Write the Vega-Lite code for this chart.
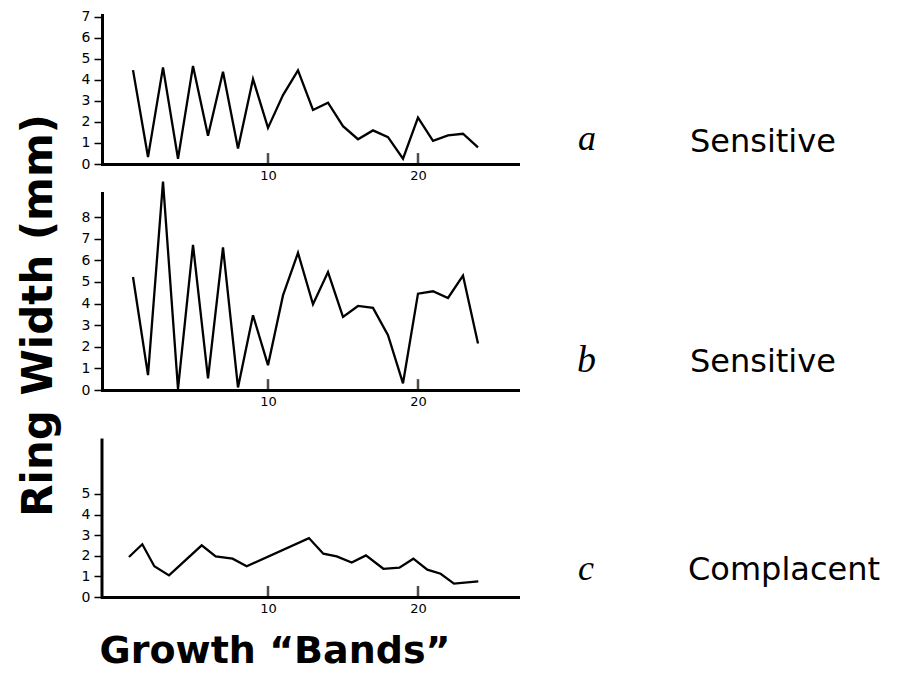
{
  "$schema": "https://vega.github.io/schema/vega-lite/v6.json",
  "padding": {"left": 18, "top": 9, "right": 0, "bottom": 0},
  "config": {
    "view": {"stroke": null},
    "font": "DejaVu Sans",
    "axis": {
      "grid": false, "title": null,
      "domainColor": "black", "domainWidth": 3, "domainCap": "square",
      "tickColor": "black", "labelColor": "black",
      "labelFont": "DejaVu Sans"
    }
  },
  "datasets": {
    "one": [{}],
    "marks10": [{"pos": 10}, {"pos": 20}],
    "series": [
      {"panel": "a", "band": 1, "width": 4.47}, {"panel": "a", "band": 2, "width": 0.33}, {"panel": "a", "band": 3, "width": 4.6}, {"panel": "a", "band": 4, "width": 0.25},
      {"panel": "a", "band": 5, "width": 4.67}, {"panel": "a", "band": 6, "width": 1.34}, {"panel": "a", "band": 7, "width": 4.39}, {"panel": "a", "band": 8, "width": 0.74},
      {"panel": "a", "band": 9, "width": 4.05}, {"panel": "a", "band": 10, "width": 1.72}, {"panel": "a", "band": 11, "width": 3.28}, {"panel": "a", "band": 12, "width": 4.46},
      {"panel": "a", "band": 13, "width": 2.57}, {"panel": "a", "band": 14, "width": 2.92}, {"panel": "a", "band": 15, "width": 1.8}, {"panel": "a", "band": 16, "width": 1.18},
      {"panel": "a", "band": 17, "width": 1.6}, {"panel": "a", "band": 18, "width": 1.28}, {"panel": "a", "band": 19, "width": 0.25}, {"panel": "a", "band": 20, "width": 2.21},
      {"panel": "a", "band": 21, "width": 1.1}, {"panel": "a", "band": 22, "width": 1.36}, {"panel": "a", "band": 23, "width": 1.44}, {"panel": "a", "band": 24, "width": 0.79},
      {"panel": "b", "band": 1, "width": 5.23}, {"panel": "b", "band": 2, "width": 0.69}, {"panel": "b", "band": 3, "width": 9.65}, {"panel": "b", "band": 4, "width": 0.05},
      {"panel": "b", "band": 5, "width": 6.72}, {"panel": "b", "band": 6, "width": 0.54}, {"panel": "b", "band": 7, "width": 6.6}, {"panel": "b", "band": 8, "width": 0.12},
      {"panel": "b", "band": 9, "width": 3.46}, {"panel": "b", "band": 10, "width": 1.15}, {"panel": "b", "band": 11, "width": 4.38}, {"panel": "b", "band": 12, "width": 6.35},
      {"panel": "b", "band": 13, "width": 3.97}, {"panel": "b", "band": 14, "width": 5.46}, {"panel": "b", "band": 15, "width": 3.38}, {"panel": "b", "band": 16, "width": 3.89},
      {"panel": "b", "band": 17, "width": 3.8}, {"panel": "b", "band": 18, "width": 2.54}, {"panel": "b", "band": 19, "width": 0.31}, {"panel": "b", "band": 20, "width": 4.46},
      {"panel": "b", "band": 21, "width": 4.57}, {"panel": "b", "band": 22, "width": 4.26}, {"panel": "b", "band": 23, "width": 5.3}, {"panel": "b", "band": 24, "width": 2.15},
      {"panel": "c", "band": 0.73, "width": 1.94}, {"panel": "c", "band": 1.62, "width": 2.56}, {"panel": "c", "band": 2.42, "width": 1.49}, {"panel": "c", "band": 3.4, "width": 1.05},
      {"panel": "c", "band": 5.58, "width": 2.51}, {"panel": "c", "band": 6.51, "width": 1.97}, {"panel": "c", "band": 7.64, "width": 1.86}, {"panel": "c", "band": 8.58, "width": 1.49},
      {"panel": "c", "band": 12.73, "width": 2.86}, {"panel": "c", "band": 13.69, "width": 2.1}, {"panel": "c", "band": 14.58, "width": 1.97}, {"panel": "c", "band": 15.58, "width": 1.67},
      {"panel": "c", "band": 16.53, "width": 2.02}, {"panel": "c", "band": 17.69, "width": 1.37}, {"panel": "c", "band": 18.76, "width": 1.42}, {"panel": "c", "band": 19.69, "width": 1.86},
      {"panel": "c", "band": 20.62, "width": 1.33}, {"panel": "c", "band": 21.51, "width": 1.13}, {"panel": "c", "band": 22.4, "width": 0.65}, {"panel": "c", "band": 24.02, "width": 0.76}
    ]
  },
  "bounds": "flush",
  "spacing": 29,
  "vconcat": [
    {
      "width": 416, "height": 149,
      "layer": [
        {
          "data": {"name": "series"},
          "transform": [{"filter": "datum.panel === 'a'"}],
          "mark": {"type": "line", "color": "black", "strokeWidth": 2.3},
          "encoding": {
            "x": {"field": "band", "type": "quantitative", "scale": {"domain": [-1.067, 26.667], "nice": false, "zero": false}, "axis": {"values": [10, 20], "format": "d", "ticks": false, "labelPadding": 5, "labelFontSize": 13, "labelFlush": false}},
            "y": {"field": "width", "type": "quantitative", "scale": {"domain": [0, 7.095], "nice": false}, "axis": {"values": [0, 1, 2, 3, 4, 5, 6, 7], "tickSize": 8, "tickWidth": 1.5, "labelPadding": 4, "labelFontSize": 14}}
          }
        },
        {
          "data": {"name": "marks10"},
          "mark": {"type": "tick", "orient": "vertical", "color": "black", "size": 11, "thickness": 2.5},
          "encoding": {
            "x": {"field": "pos", "type": "quantitative", "axis": {"values": [10, 20], "format": "d", "ticks": false, "labelPadding": 5, "labelFontSize": 13, "labelFlush": false}},
            "y": {"datum": 0.26, "type": "quantitative", "axis": {"values": [0, 1, 2, 3, 4, 5, 6, 7], "tickSize": 8, "tickWidth": 1.5, "labelPadding": 4, "labelFontSize": 14}}
          }
        },
        {
          "data": {"name": "one"},
          "mark": {"type": "text", "text": "a", "font": "Liberation Serif", "fontStyle": "italic", "fontSize": 36, "align": "left", "baseline": "alphabetic"},
          "encoding": {
            "x": {"datum": 30.67, "type": "quantitative", "axis": {"values": [10, 20], "format": "d", "ticks": false, "labelPadding": 5, "labelFontSize": 13, "labelFlush": false}},
            "y": {"datum": 0.67, "type": "quantitative", "axis": {"values": [0, 1, 2, 3, 4, 5, 6, 7], "tickSize": 8, "tickWidth": 1.5, "labelPadding": 4, "labelFontSize": 14}}
          }
        },
        {
          "data": {"name": "one"},
          "mark": {"type": "text", "text": "Sensitive", "font": "DejaVu Sans", "fontSize": 32, "align": "left", "baseline": "alphabetic"},
          "encoding": {
            "x": {"datum": 38.13, "type": "quantitative", "axis": {"values": [10, 20], "format": "d", "ticks": false, "labelPadding": 5, "labelFontSize": 13, "labelFlush": false}},
            "y": {"datum": 0.57, "type": "quantitative", "axis": {"values": [0, 1, 2, 3, 4, 5, 6, 7], "tickSize": 8, "tickWidth": 1.5, "labelPadding": 4, "labelFontSize": 14}}
          }
        }
      ]
    },
    {
      "width": 416, "height": 197,
      "layer": [
        {
          "data": {"name": "series"},
          "transform": [{"filter": "datum.panel === 'b'"}],
          "mark": {"type": "line", "color": "black", "strokeWidth": 2.3},
          "encoding": {
            "x": {"field": "band", "type": "quantitative", "scale": {"domain": [-1.067, 26.667], "nice": false, "zero": false}, "axis": {"values": [10, 20], "format": "d", "ticks": false, "labelPadding": 5, "labelFontSize": 13, "labelFlush": false}},
            "y": {"field": "width", "type": "quantitative", "scale": {"domain": [0, 9.12], "nice": false}, "axis": {"values": [0, 1, 2, 3, 4, 5, 6, 7, 8], "tickSize": 8, "tickWidth": 1.5, "labelPadding": 4, "labelFontSize": 14}}
          }
        },
        {
          "data": {"name": "marks10"},
          "mark": {"type": "tick", "orient": "vertical", "color": "black", "size": 11, "thickness": 2.5},
          "encoding": {
            "x": {"field": "pos", "type": "quantitative", "axis": {"values": [10, 20], "format": "d", "ticks": false, "labelPadding": 5, "labelFontSize": 13, "labelFlush": false}},
            "y": {"datum": 0.25, "type": "quantitative", "axis": {"values": [0, 1, 2, 3, 4, 5, 6, 7, 8], "tickSize": 8, "tickWidth": 1.5, "labelPadding": 4, "labelFontSize": 14}}
          }
        },
        {
          "data": {"name": "one"},
          "mark": {"type": "text", "text": "b", "font": "Liberation Serif", "fontStyle": "italic", "fontSize": 38, "align": "left", "baseline": "alphabetic"},
          "encoding": {
            "x": {"datum": 30.6, "type": "quantitative", "axis": {"values": [10, 20], "format": "d", "ticks": false, "labelPadding": 5, "labelFontSize": 13, "labelFlush": false}},
            "y": {"datum": 0.83, "type": "quantitative", "axis": {"values": [0, 1, 2, 3, 4, 5, 6, 7, 8], "tickSize": 8, "tickWidth": 1.5, "labelPadding": 4, "labelFontSize": 14}}
          }
        },
        {
          "data": {"name": "one"},
          "mark": {"type": "text", "text": "Sensitive", "font": "DejaVu Sans", "fontSize": 32, "align": "left", "baseline": "alphabetic"},
          "encoding": {
            "x": {"datum": 38.13, "type": "quantitative", "axis": {"values": [10, 20], "format": "d", "ticks": false, "labelPadding": 5, "labelFontSize": 13, "labelFlush": false}},
            "y": {"datum": 0.83, "type": "quantitative", "axis": {"values": [0, 1, 2, 3, 4, 5, 6, 7, 8], "tickSize": 8, "tickWidth": 1.5, "labelPadding": 4, "labelFontSize": 14}}
          }
        },
        {
          "data": {"name": "one"},
          "mark": {"type": "text", "text": "Ring  Width (mm)", "font": "DejaVu Sans", "fontWeight": "bold", "fontSize": 42, "angle": 270, "align": "center", "baseline": "alphabetic"},
          "encoding": {
            "x": {"datum": -4.4, "type": "quantitative", "axis": {"values": [10, 20], "format": "d", "ticks": false, "labelPadding": 5, "labelFontSize": 13, "labelFlush": false}},
            "y": {"datum": 3.45, "type": "quantitative", "axis": {"values": [0, 1, 2, 3, 4, 5, 6, 7, 8], "tickSize": 8, "tickWidth": 1.5, "labelPadding": 4, "labelFontSize": 14}}
          }
        }
      ]
    },
    {
      "width": 416, "height": 178,
      "layer": [
        {
          "data": {"name": "series"},
          "transform": [{"filter": "datum.panel === 'c'"}],
          "mark": {"type": "line", "color": "black", "strokeWidth": 2.3},
          "encoding": {
            "x": {"field": "band", "type": "quantitative", "scale": {"domain": [-1.067, 26.667], "nice": false, "zero": false}, "axis": {"values": [10, 20], "format": "d", "ticks": false, "labelPadding": 5, "labelFontSize": 13, "labelFlush": false}},
            "y": {"field": "width", "type": "quantitative", "scale": {"domain": [0, 8.64], "nice": false}, "axis": {"values": [0, 1, 2, 3, 4, 5], "domain": false, "tickSize": 8, "tickWidth": 1.5, "labelPadding": 4, "labelFontSize": 14}}
          }
        },
        {
          "data": {"name": "marks10"},
          "mark": {"type": "tick", "orient": "vertical", "color": "black", "size": 11, "thickness": 2.5},
          "encoding": {
            "x": {"field": "pos", "type": "quantitative", "axis": {"values": [10, 20], "format": "d", "ticks": false, "labelPadding": 5, "labelFontSize": 13, "labelFlush": false}},
            "y": {"datum": 0.27, "type": "quantitative", "axis": {"values": [0, 1, 2, 3, 4, 5], "domain": false, "tickSize": 8, "tickWidth": 1.5, "labelPadding": 4, "labelFontSize": 14}}
          }
        },
        {
          "data": {"name": "one"},
          "mark": {"type": "rule", "color": "black", "strokeWidth": 3, "strokeCap": "square"},
          "encoding": {
            "x": {"datum": -1.067, "type": "quantitative", "axis": {"values": [10, 20], "format": "d", "ticks": false, "labelPadding": 5, "labelFontSize": 13, "labelFlush": false}},
            "y": {"datum": 0, "type": "quantitative", "axis": {"values": [0, 1, 2, 3, 4, 5], "domain": false, "tickSize": 8, "tickWidth": 1.5, "labelPadding": 4, "labelFontSize": 14}},
            "y2": {"datum": 7.62}
          }
        },
        {
          "data": {"name": "one"},
          "mark": {"type": "text", "text": "c", "font": "Liberation Serif", "fontStyle": "italic", "fontSize": 36, "align": "left", "baseline": "alphabetic"},
          "encoding": {
            "x": {"datum": 30.67, "type": "quantitative", "axis": {"values": [10, 20], "format": "d", "ticks": false, "labelPadding": 5, "labelFontSize": 13, "labelFlush": false}},
            "y": {"datum": 0.83, "type": "quantitative", "axis": {"values": [0, 1, 2, 3, 4, 5], "domain": false, "tickSize": 8, "tickWidth": 1.5, "labelPadding": 4, "labelFontSize": 14}}
          }
        },
        {
          "data": {"name": "one"},
          "mark": {"type": "text", "text": "Complacent", "font": "DejaVu Sans", "fontSize": 32, "align": "left", "baseline": "alphabetic"},
          "encoding": {
            "x": {"datum": 38.0, "type": "quantitative", "axis": {"values": [10, 20], "format": "d", "ticks": false, "labelPadding": 5, "labelFontSize": 13, "labelFlush": false}},
            "y": {"datum": 0.83, "type": "quantitative", "axis": {"values": [0, 1, 2, 3, 4, 5], "domain": false, "tickSize": 8, "tickWidth": 1.5, "labelPadding": 4, "labelFontSize": 14}}
          }
        },
        {
          "data": {"name": "one"},
          "mark": {"type": "text", "text": "Growth  “Bands”", "font": "DejaVu Sans", "fontWeight": "bold", "fontSize": 38, "align": "center", "baseline": "alphabetic"},
          "encoding": {
            "x": {"datum": 10.47, "type": "quantitative", "axis": {"values": [10, 20], "format": "d", "ticks": false, "labelPadding": 5, "labelFontSize": 13, "labelFlush": false}},
            "y": {"datum": -3.2, "type": "quantitative", "axis": {"values": [0, 1, 2, 3, 4, 5], "domain": false, "tickSize": 8, "tickWidth": 1.5, "labelPadding": 4, "labelFontSize": 14}}
          }
        }
      ]
    }
  ]
}
